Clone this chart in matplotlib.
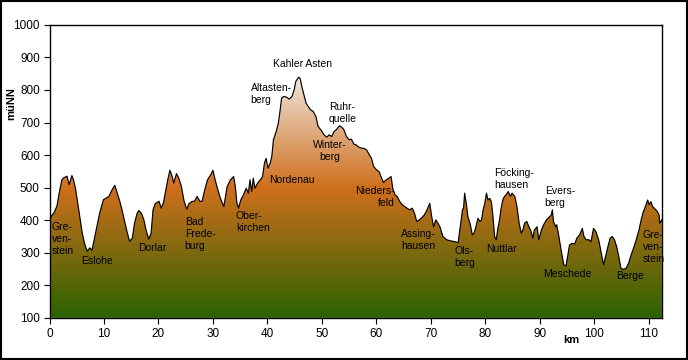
"""Elevation profile of the Sauerland cycle route (km vs. m above sea level)."""

import matplotlib
matplotlib.use("Agg")
import matplotlib.pyplot as plt
import numpy as np
from matplotlib.colors import LinearSegmentedColormap
from matplotlib.patches import Polygon, Rectangle

plt.rcParams["font.family"] = ["Liberation Sans", "DejaVu Sans"]

# distance along route (km) and elevation (m above NN)
km = [
    0.0, 0.4, 0.86, 1.35, 1.84, 2.27, 2.58, 3.2, 3.6, 4.1, 4.4, 4.8, 5.15, 5.6,
    6.0, 6.4, 6.9, 7.4, 7.8, 8.2, 8.7, 9.2, 9.9, 10.4, 10.9, 11.5, 12.0, 12.4,
    12.9, 13.3, 13.7, 14.2, 14.7, 15.2, 15.6, 16.1, 16.4, 16.9, 17.3, 17.7,
    18.2, 18.65, 19.0, 19.4, 20.1, 20.5, 20.9, 21.3, 21.7, 22.1, 22.5, 22.8,
    23.3, 23.7, 24.2, 24.7, 25.2, 25.6, 26.2, 26.6, 27.1, 27.6, 28.0, 28.5,
    29.0, 29.6, 30.0, 30.4, 30.8, 31.3, 32.0, 32.6, 33.2, 33.8, 34.1, 34.4,
    34.7, 35.1, 35.6, 36.1, 36.5, 36.8, 37.1, 37.4, 37.7, 38.2, 38.7, 39.1,
    39.45, 39.75, 40.1, 40.5, 40.8, 41.1, 41.6, 42.0, 42.3, 42.6, 43.0, 43.5,
    44.0, 44.5, 44.9, 45.2, 45.7, 46.0, 46.3, 46.7, 47.1, 47.5, 47.9, 48.4,
    48.9, 49.3, 49.9, 50.4, 50.9, 51.3, 51.8, 52.2, 52.7, 53.2, 53.6, 54.0,
    54.5, 55.0, 55.4, 55.85, 56.3, 56.8, 57.3, 57.7, 58.2, 58.7, 59.1, 59.5,
    60.0, 60.5, 60.85, 61.3, 61.8, 62.3, 62.7, 63.0, 63.4, 63.8, 64.3, 64.8,
    65.2, 65.6, 66.1, 66.6, 67.0, 67.4, 67.9, 68.4, 68.8, 69.3, 69.8, 70.1,
    70.5, 70.9, 71.3, 71.7, 72.2, 72.9, 73.5, 74.4, 75.0, 75.4, 75.8, 76.0,
    76.2, 76.5, 76.8, 77.25, 77.6, 77.9, 78.2, 78.65, 79.0, 79.3, 79.6, 79.9,
    80.2, 80.5, 80.8, 81.1, 81.4, 81.7, 82.0, 82.3, 82.6, 82.9, 83.2, 83.5,
    83.8, 84.2, 84.6, 84.9, 85.4, 85.8, 86.2, 86.6, 86.9, 87.2, 87.6, 88.0,
    88.4, 88.7, 89.0, 89.5, 89.8, 90.3, 90.7, 91.2, 91.7, 92.1, 92.3, 92.5,
    92.9, 93.1, 93.5, 93.9, 94.4, 94.8, 95.15, 95.45, 95.9, 96.4, 96.8, 97.3,
    97.8, 98.1, 98.5, 99.0, 99.4, 99.85, 100.3, 100.8, 101.3, 101.7, 102.05,
    102.5, 102.9, 103.3, 103.7, 104.1, 104.5, 104.9, 105.35, 105.8, 106.3,
    106.75, 107.2, 107.7, 108.2, 108.6, 109.0, 109.5, 109.8, 110.1, 110.4,
    110.7, 111.0, 111.3, 111.6, 111.9, 112.0, 112.4,
]
elev = [
    402, 414, 424, 443, 489, 524, 530, 535, 509, 537, 524, 494, 455, 407,
    361, 330, 305, 315, 308, 340, 381, 422, 463, 468, 473, 494, 507, 484,
    458, 432, 402, 366, 335, 345, 391, 422, 430, 420, 402, 371,
    342, 361, 432, 451, 458, 437, 453, 489, 524, 553, 535, 514,
    543, 530, 504, 458, 434, 451, 458, 458, 473, 458, 458, 494,
    524, 540, 553, 524, 499, 470, 442, 503, 524, 534, 503, 452,
    437, 462, 478, 498, 483, 524, 488, 529, 498, 514, 524, 534,
    575, 590, 560, 575, 596, 647, 672, 698, 734, 775, 780, 778,
    772, 780, 800, 826, 839, 836, 811, 785, 759, 749, 739, 734,
    718, 688, 675, 662, 655, 662, 657, 672, 679, 690, 686, 679,
    657, 647, 649, 634, 631, 624, 621, 621, 616, 601, 590, 565,
    555, 549, 534, 516, 524, 529, 534, 498, 478, 473, 457, 447,
    442, 437, 432, 437, 421, 396, 401, 409, 416, 432, 452, 416,
    380, 401, 391, 378, 350, 340, 337, 334, 331, 380, 432, 437,
    483, 452, 411, 386, 355, 360, 375, 406, 396, 401, 432, 452,
    483, 462, 467, 457, 411, 350, 340, 375, 401, 437, 462, 473,
    478, 488, 473, 483, 473, 442, 391, 360, 370, 391, 396, 380,
    365, 345, 370, 380, 340, 370, 386, 401, 409, 416, 432, 396,
    380, 386, 350, 309, 263, 260, 293, 324, 329, 327, 345, 355,
    375, 350, 340, 340, 334, 375, 365, 340, 298, 263, 288,
    319, 345, 350, 340, 319, 288, 252, 249, 252, 268,
    293, 314, 340, 370, 401, 426, 447, 462, 447, 457,
    442, 437, 432, 426, 416, 391, 401,
]

# place names: (text, km, elevation of block centre, horizontal alignment)
places = [
    ("Gre-\nven-\nstein", 0.4, 343, "left"),
    ("Eslohe", 8.8, 276, "center"),
    ("Dorlar", 18.8, 316, "center"),
    ("Bad\nFrede-\nburg", 24.8, 358, "left"),
    ("Ober-\nkirchen", 34.2, 394, "left"),
    ("Nordenau", 44.5, 523, "center"),
    ("Altasten-\nberg", 36.9, 787, "left"),
    ("Kahler Asten", 46.5, 881, "center"),
    ("Ruhr-\nquelle", 51.3, 729, "left"),
    ("Winter-\nberg", 51.5, 612, "center"),
    ("Nieders-\nfeld", 63.3, 472, "right"),
    ("Assing-\nhausen", 64.6, 339, "left"),
    ("Ols-\nberg", 74.25, 287, "left"),
    ("Nuttlar", 83.0, 311, "center"),
    ("Föcking-\nhausen", 81.7, 526, "left"),
    ("Evers-\nberg", 90.9, 472, "left"),
    ("Meschede", 95.1, 235, "center"),
    ("Berge", 106.5, 230, "center"),
    ("Gre-\nven-\nstein", 108.9, 319, "left"),
]

xticks = list(range(0, 111, 10))
yticks = list(range(100, 1001, 100))

fig = plt.figure(figsize=(6.88, 3.6), dpi=100)
ax = fig.add_axes([0.072, 0.117, 0.89, 0.814])

x_max = 112.4
y_min, y_max = 100, 1000

# gradient fill clipped to the profile polygon
cmap = LinearSegmentedColormap.from_list(
    "profile", [(0.0, "#2b6300"), (0.54, "#cf6f1c"), (1.0, "#eee4dc")]
)
top = max(elev)
grad = np.linspace(0, 1, 256).reshape(-1, 1)
img = ax.imshow(
    grad, cmap=cmap, origin="lower", aspect="auto",
    extent=[0, x_max, y_min, top], zorder=1,
)
verts = [(km[0], y_min)] + list(zip(km, elev)) + [(km[-1], y_min)]
clip = Polygon(verts, closed=True, facecolor="none", edgecolor="none")
ax.add_patch(clip)
img.set_clip_path(clip)
ax.plot(km, elev, color="black", linewidth=0.85, zorder=3)

for text, x, y, ha in places:
    ax.text(x, y, text, ha=ha, va="center", multialignment=ha,
            fontsize=7.5, color="black", linespacing=1.25, zorder=4)

ax.set_xlim(0, x_max)
ax.set_ylim(y_min, y_max)
ax.set_xticks(xticks)
ax.set_yticks(yticks)
ax.tick_params(direction="out", length=4, width=0.8, labelsize=8.5, pad=3)
for spine in ax.spines.values():
    spine.set_linewidth(1.0)

ax.text(0.853, -0.075, "km", transform=ax.transAxes, ha="center", va="center",
        fontsize=8, fontweight="bold")
ax.text(-0.063, 0.73, "müNN", transform=ax.transAxes, ha="center", va="center",
        rotation=90, fontsize=8, fontweight="bold")

# black frame around the whole chart
fig.patches.append(Rectangle((0.001, 0.002), 0.997, 0.995, transform=fig.transFigure,
                             fill=False, edgecolor="black", linewidth=1.5))

fig.savefig("out.png", dpi=100)
plt.close(fig)
